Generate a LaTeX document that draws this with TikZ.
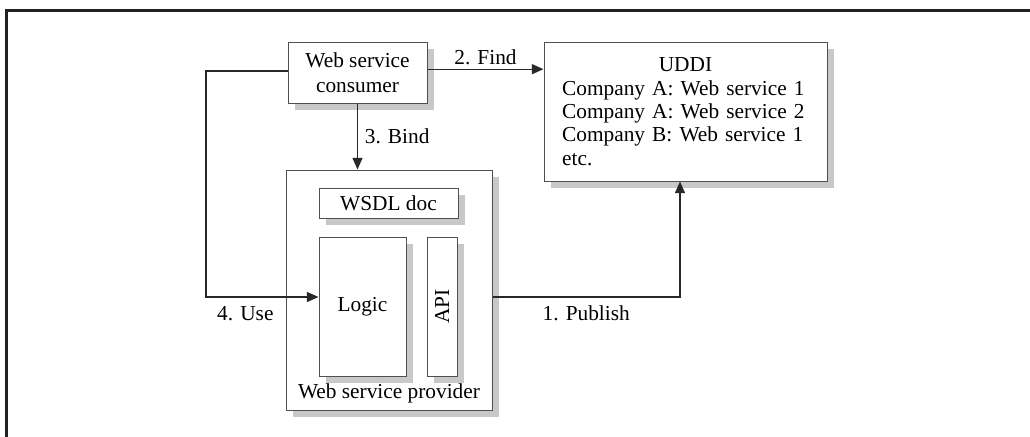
\documentclass[tikz,border=0pt]{standalone}
\usepackage{fontspec}
\setmainfont{Liberation Serif}
\usetikzlibrary{arrows.meta,shadows}
\definecolor{wsline}{RGB}{40,40,40}
\definecolor{wsedge}{RGB}{80,80,80}
\definecolor{wsshadow}{RGB}{200,200,200}
\definecolor{wsframe}{RGB}{34,34,34}
\tikzset{
  box/.style={draw=wsedge, line width=0.6pt, fill=white, align=center, inner sep=0pt,
              font=\fontsize{12.8}{14}\selectfont,
              drop shadow={shadow xshift=4.2pt, shadow yshift=-4pt, fill=wsshadow, opacity=1}},
  arr/.style={-{Triangle[length=7pt,width=6pt]}, line width=0.8pt, draw=wsline},
  lab/.style={font=\fontsize{12.8}{13.5}\selectfont, inner sep=2pt}
}

\begin{document}
\begin{tikzpicture}[x=0.6pt,y=-0.6pt]
  \useasboundingbox (0,0) rectangle (1030,436);
  \draw[line width=1.8pt, draw=wsframe] (6.7,440) -- (6.7,10.7) -- (1034,10.7);
  \node[box, minimum width=83.4pt, minimum height=36.6pt, font=\fontsize{12.8}{14.8}\selectfont] (consumer) at (357.5,72.5) {Web service\\consumer};
  \node[box, minimum width=169.8pt, minimum height=83.4pt, text width=148pt, align=left] (uddi) at (685.5,111.5)
    {\makebox[148pt]{UDDI}\\Company A: Web service 1\\Company A: Web service 2\\Company B: Web service 1\\etc.};
  \node[box, minimum width=123.6pt, minimum height=144pt,
        label={[lab, anchor=south, inner sep=4pt]south:Web service provider}] (provider) at (389,290) {};
  \node[box, minimum width=83.4pt, minimum height=18pt] (wsdl) at (388.5,203) {WSDL doc};
  \node[box, minimum width=52.2pt, minimum height=83.4pt] (logic) at (362.5,306.5) {Logic};
  \node[box, minimum width=18pt, minimum height=83.4pt] (api) at (442,306.5) {\rotatebox{90}{API}};
  \draw[arr] ([yshift=2pt]consumer.east) -- node[lab, above]{2. Find} ([yshift=2pt]consumer.east -| uddi.west);
  \draw[arr] (consumer.south) -- node[lab, right, inner sep=4pt]{3. Bind} (consumer.south |- provider.north);
  \coordinate (usebend) at (206,297);
  \draw[arr] ([yshift=1pt]consumer.west) -| (usebend) -- node[lab, below, inner sep=5pt, pos=0.35]{4. Use} (usebend -| logic.west);
  \coordinate (pubbend) at (680,297);
  \draw[arr] (pubbend -| provider.east) -- node[lab, below, inner sep=5pt]{1. Publish} (pubbend) -- (pubbend |- uddi.south);
\end{tikzpicture}
\end{document}
